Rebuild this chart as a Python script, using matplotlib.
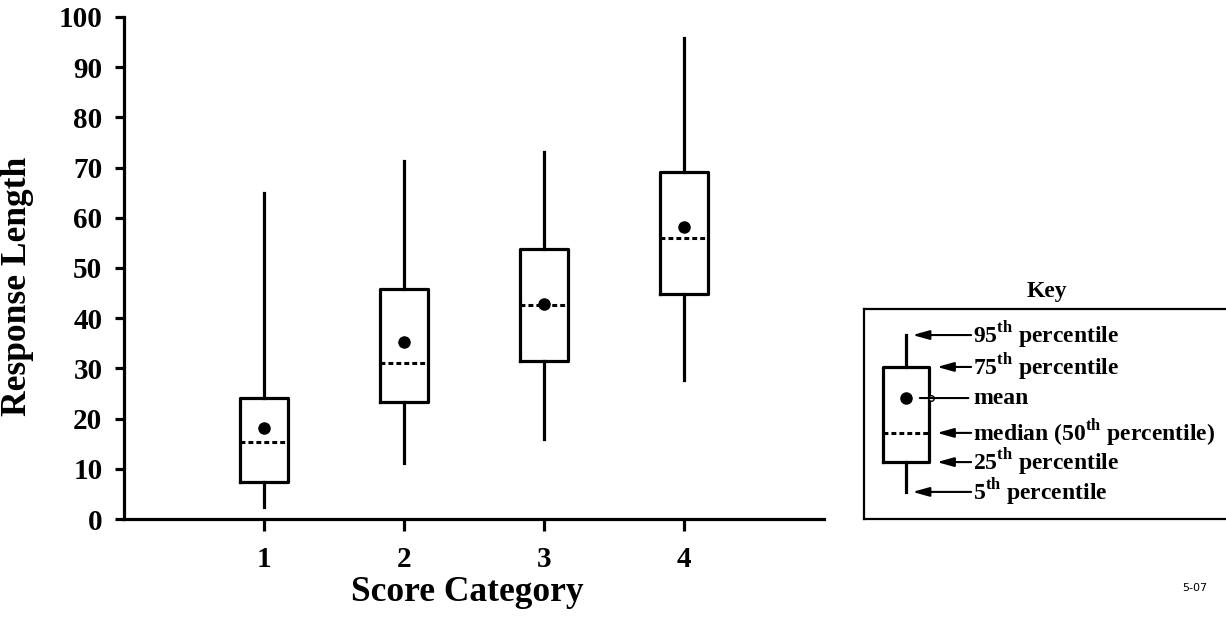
import matplotlib
matplotlib.use("Agg")
import matplotlib.pyplot as plt

plt.rcParams['font.family'] = ['Liberation Serif', 'DejaVu Serif']
plt.rcParams['mathtext.fontset'] = 'custom'
plt.rcParams['mathtext.rm'] = 'Liberation Serif:bold'
plt.rcParams['mathtext.bf'] = 'Liberation Serif:bold'

# ---- data ----
categories = [1, 2, 3, 4]
p5 = [2.4, 11.2, 16.0, 27.7]
p25 = [7.4, 23.3, 31.5, 44.8]
median = [15.3, 31.1, 42.6, 56.0]
mean = [18.1, 35.3, 42.8, 58.2]
p75 = [24.1, 45.8, 53.8, 69.1]
p95 = [65.0, 71.3, 73.1, 95.8]
y_ticks = [0, 10, 20, 30, 40, 50, 60, 70, 80, 90, 100]

# key illustration values
key_stats = {'whislo': 12.9, 'q1': 27.1, 'med': 41.0, 'mean': 57.6,
             'q3': 72.4, 'whishi': 87.6}
key_labels = [
    ('whishi', r'95$^{\mathbf{th}}$ percentile', 'box_center'),
    ('q3', r'75$^{\mathbf{th}}$ percentile', 'box_edge'),
    ('mean', r'mean', 'mean'),
    ('med', r'median (50$^{\mathbf{th}}$ percentile)', 'box_edge'),
    ('q1', r'25$^{\mathbf{th}}$ percentile', 'box_edge'),
    ('whislo', r'5$^{\mathbf{th}}$ percentile', 'box_center'),
]

W, H = 1226, 617
fig = plt.figure(figsize=(W / 100, H / 100), dpi=100)

LW = 2.3
ax = fig.add_axes([124 / W, 1 - 519 / H, 700 / W, 502 / H])

stats = []
for i in range(len(categories)):
    stats.append(dict(med=median[i], q1=p25[i], q3=p75[i], whislo=p5[i],
                      whishi=p95[i], mean=mean[i], fliers=[]))

box_kw = dict(
    widths=0.345, showcaps=False, showmeans=True, showfliers=False,
    boxprops=dict(color='black', linewidth=LW),
    whiskerprops=dict(color='black', linewidth=LW),
    medianprops=dict(color='black', linewidth=2.2, linestyle=(0, (1.6, 1.0))),
    meanprops=dict(marker='o', markerfacecolor='black', markeredgecolor='black',
                   markersize=8),
)
ax.bxp(stats, positions=categories, **box_kw)

ax.set_xlim(0, 5)
ax.set_ylim(0, 100)
ax.set_xticks(categories)
ax.set_xticklabels([str(c) for c in categories])
ax.set_yticks(y_ticks)
ax.set_yticklabels([str(t) for t in y_ticks])
for s in ['top', 'right']:
    ax.spines[s].set_visible(False)
for s in ['left', 'bottom']:
    ax.spines[s].set_linewidth(LW)
ax.tick_params(axis='y', direction='out', length=6.5, width=LW, pad=9,
               labelsize=21)
ax.tick_params(axis='x', direction='out', length=8.5, width=LW, pad=11,
               labelsize=21)
for lab in ax.get_xticklabels() + ax.get_yticklabels():
    lab.set_fontweight('bold')
ax.set_xlabel('Score Category', fontsize=25.5, fontweight='bold')
ax.set_ylabel('Response Length', fontsize=25.5, fontweight='bold')
ax.xaxis.set_label_coords(0.49, -0.113)
ax.yaxis.set_label_coords(-0.128, 0.464)

# ---- key ----
kx0, kx1 = 864, 1232
kax = fig.add_axes([kx0 / W, 1 - 519 / H, (kx1 - kx0) / W, 210 / H])
for s in kax.spines.values():
    s.set_linewidth(1.6)
kcenter = (906 - kx0) / (kx1 - kx0)
kwidth = 46 / (kx1 - kx0)
kstat = dict(key_stats)
kstat['fliers'] = []
kax.bxp([kstat], positions=[kcenter], **dict(box_kw, widths=kwidth))
kax.set_xlim(0, 1)
kax.set_ylim(0, 100)
kax.set_xticks([])
kax.set_yticks([])

text_x = (973 - kx0) / (kx1 - kx0)
targets = {
    'box_center': kcenter + 0.018,
    'box_edge': kcenter + kwidth / 2 + 0.022,
    'mean': kcenter + 0.03,
}
for key, label, tgt in key_labels:
    yv = key_stats[key]
    kax.text(text_x, yv, label, ha='left', va='center', fontsize=17,
             fontweight='bold')
    if tgt == 'mean':
        kax.annotate('', xy=(targets[tgt], yv), xytext=(text_x - 0.005, yv),
                     arrowprops=dict(arrowstyle='-', color='black', lw=1.5))
        kax.plot([kcenter + kwidth / 2 + 0.005], [yv], marker='o',
                 markersize=4, markerfacecolor='white', markeredgecolor='black',
                 markeredgewidth=1)
    else:
        kax.annotate('', xy=(targets[tgt], yv), xytext=(text_x - 0.005, yv),
                     arrowprops=dict(arrowstyle='-|>,head_length=1.0,head_width=0.28',
                                     color='black', lw=1.5, shrinkA=0, shrinkB=0))

fig.text(1047 / W, 1 - 291 / H, 'Key', ha='center', va='center', fontsize=17,
         fontweight='bold')
fig.text(1195 / W, 1 - 588 / H, '5-07', ha='center', va='center', fontsize=8,
         family='DejaVu Sans')

fig.savefig('out.png', dpi=100)
